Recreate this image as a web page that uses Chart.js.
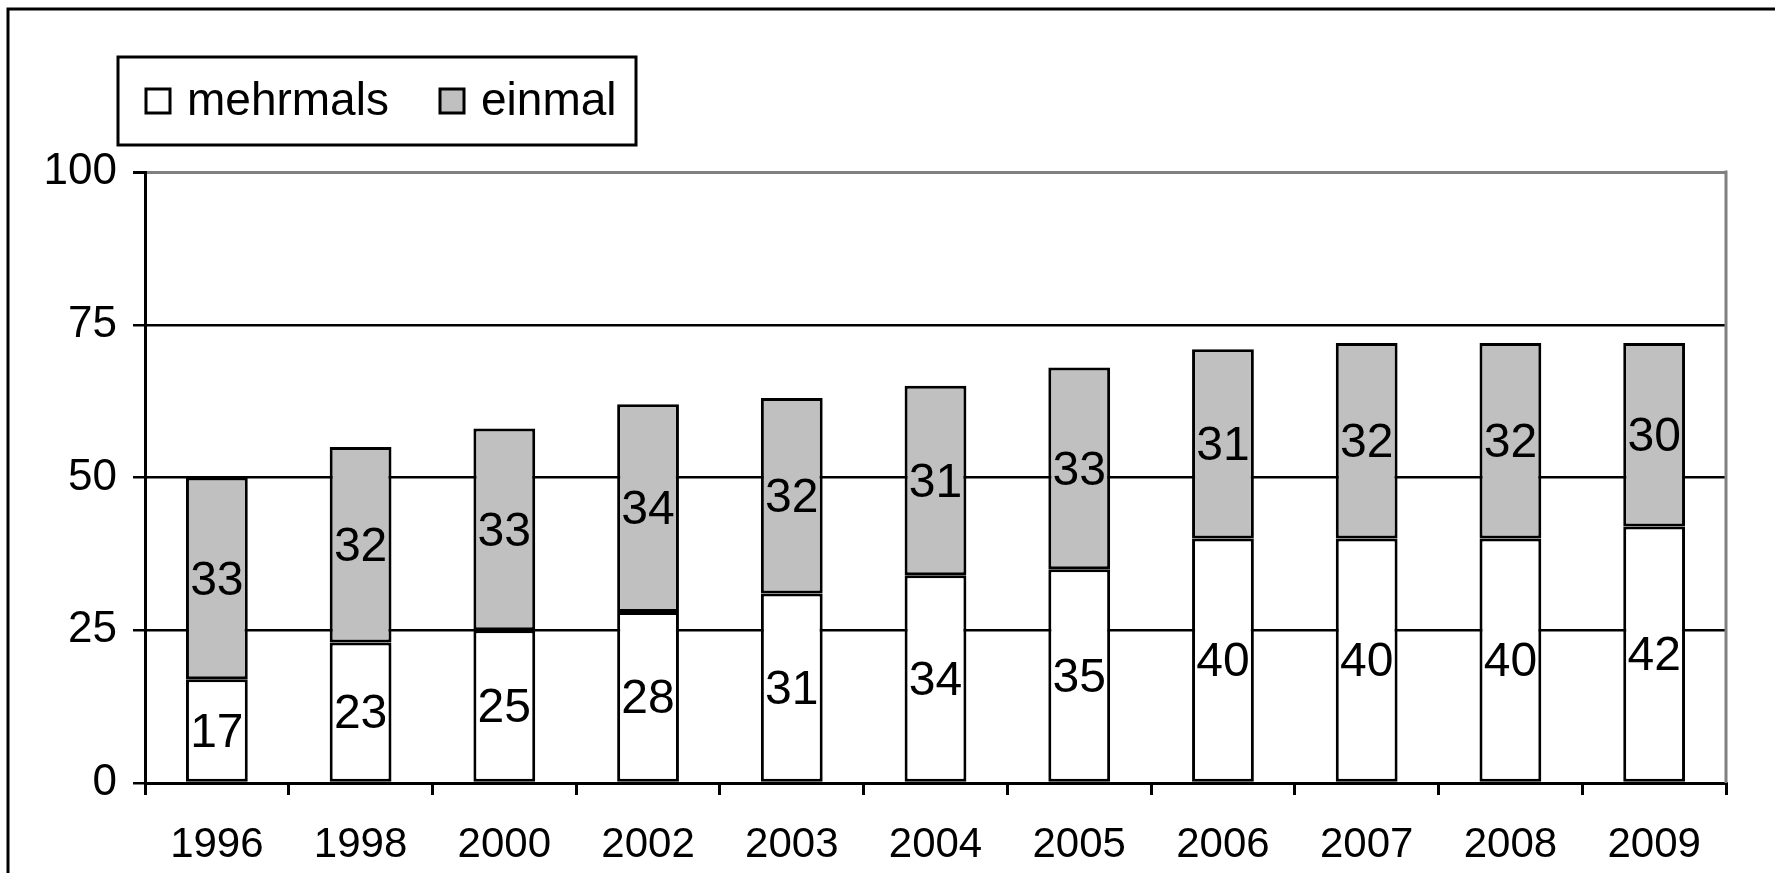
<!DOCTYPE html>
<html>
<head>
<meta charset="utf-8">
<script src="https://cdn.jsdelivr.net/npm/chart.js@4.4.1/dist/chart.umd.min.js"></script>
<style>
  html, body { margin: 0; padding: 0; background: #ffffff; }
  #wrap { width: 1775px; height: 873px; position: relative; }
  canvas { display: block; }
</style>
</head>
<body>
<div id="wrap"><canvas id="c" width="1775" height="873"></canvas></div>
<script>
// ---- data ----
const categories = ['1996', '1998', '2000', '2002', '2003', '2004', '2005', '2006', '2007', '2008', '2009'];
const mehrmals = [17, 23, 25, 28, 31, 34, 35, 40, 40, 40, 42];
const einmal = [33, 32, 33, 34, 32, 31, 33, 31, 32, 32, 30];
const seriesNames = ['mehrmals', 'einmal'];
const yTickValues = [0, 25, 50, 75, 100];

const FONT = "'Liberation Sans', Arial, Helvetica, sans-serif";

// outer frame (left and top edges visible)
const framePlugin = {
  id: 'frame',
  beforeDraw(chart) {
    const ctx = chart.ctx;
    ctx.save();
    ctx.fillStyle = '#ffffff';
    ctx.fillRect(0, 0, chart.width, chart.height);
    ctx.strokeStyle = '#000000';
    ctx.lineWidth = 3;
    ctx.beginPath();
    ctx.moveTo(8, chart.height + 5);
    ctx.lineTo(8, 9);
    ctx.lineTo(chart.width + 5, 9);
    ctx.stroke();
    ctx.restore();
  },
  afterDraw(chart) {
    // right edge of plot area in grey
    const a = chart.chartArea;
    const ctx = chart.ctx;
    ctx.save();
    ctx.strokeStyle = '#808080';
    ctx.lineWidth = 3;
    ctx.beginPath();
    ctx.moveTo(a.right, a.top - 1.5);
    ctx.lineTo(a.right, a.bottom);
    ctx.stroke();
    ctx.restore();
  }
};

// segment value labels centred in each bar segment
const valueLabels = {
  id: 'valueLabels',
  afterDatasetsDraw(chart) {
    const ctx = chart.ctx;
    ctx.save();
    ctx.font = '48px ' + FONT;
    ctx.fillStyle = '#000000';
    ctx.textAlign = 'center';
    ctx.textBaseline = 'middle';
    chart.data.datasets.forEach((ds, i) => {
      const meta = chart.getDatasetMeta(i);
      meta.data.forEach((el, j) => {
        const p = el.getProps(['x', 'y', 'base'], true);
        ctx.fillText(String(ds.data[j]), p.x, (p.y + p.base) / 2 + 3);
      });
    });
    ctx.restore();
  }
};

// boxed legend in the top-left
const boxLegend = {
  id: 'boxLegend',
  afterDraw(chart) {
    const ctx = chart.ctx;
    const box = { x: 118, y: 57, w: 518, h: 88 };
    ctx.save();
    ctx.fillStyle = '#ffffff';
    ctx.fillRect(box.x, box.y, box.w, box.h);
    ctx.strokeStyle = '#000000';
    ctx.lineWidth = 3;
    ctx.strokeRect(box.x, box.y, box.w, box.h);
    ctx.font = '46px ' + FONT;
    ctx.textBaseline = 'middle';
    ctx.textAlign = 'left';
    const cy = box.y + box.h / 2;
    const markerX = [146, 440];
    chart.data.datasets.forEach((ds, i) => {
      const mx = markerX[i];
      ctx.fillStyle = ds.backgroundColor;
      ctx.fillRect(mx, cy - 12, 24, 24);
      ctx.lineWidth = 3;
      ctx.strokeStyle = '#000000';
      ctx.strokeRect(mx, cy - 12, 24, 24);
      ctx.fillStyle = '#000000';
      ctx.fillText(ds.label, mx + 41, cy + 1);
    });
    ctx.restore();
  }
};

new Chart(document.getElementById('c'), {
  type: 'bar',
  data: {
    labels: categories,
    datasets: [
      { label: seriesNames[0], data: mehrmals, backgroundColor: '#ffffff', borderColor: '#000000', borderWidth: 3, borderSkipped: false },
      { label: seriesNames[1], data: einmal, backgroundColor: '#c0c0c0', borderColor: '#000000', borderWidth: 3, borderSkipped: false }
    ]
  },
  options: {
    responsive: false,
    animation: false,
    devicePixelRatio: 1,
    barPercentage: 0.43,
    categoryPercentage: 1.0,
    layout: { padding: { left: 0, right: 49, top: 172, bottom: 0 } },
    plugins: { legend: { display: false }, tooltip: { enabled: false }, title: { display: false } },
    scales: {
      x: {
        stacked: true,
        grid: { offset: true, drawOnChartArea: false, color: '#000000', tickColor: '#000000', lineWidth: 3, tickLength: 12 },
        border: { color: '#000000', width: 3 },
        ticks: { font: { size: 42, family: FONT }, color: '#000000', padding: 25, maxRotation: 0, autoSkip: false },
        afterFit(s) { s.height = 90; }
      },
      y: {
        stacked: true,
        min: 0,
        max: 100,
        afterBuildTicks(s) { s.ticks = yTickValues.map(v => ({ value: v })); },
        grid: {
          color: (c) => (c.tick && c.tick.value === 100 ? '#808080' : '#000000'),
          lineWidth: (c) => (c.tick && c.tick.value === 100 ? 3 : 2.5),
          tickColor: '#000000',
          tickLength: 12
        },
        border: { color: '#000000', width: 3 },
        ticks: { font: { size: 44, family: FONT }, color: '#000000', padding: 16 },
        afterFit(s) { s.width = 145; }
      }
    }
  },
  plugins: [framePlugin, valueLabels, boxLegend]
});
</script>
</body>
</html>
